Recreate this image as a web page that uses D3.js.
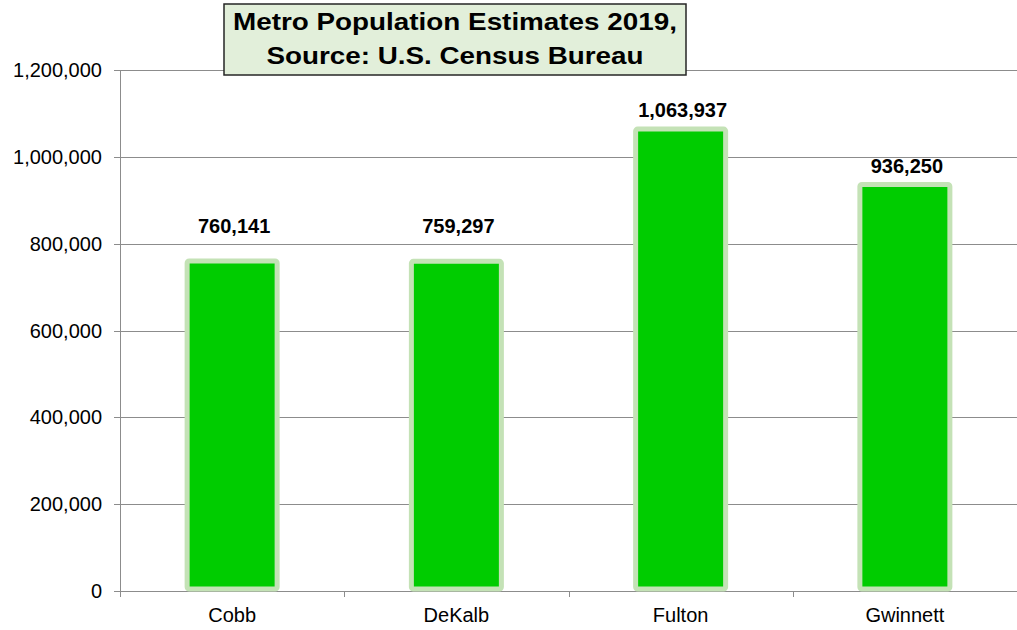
<!DOCTYPE html>
<html>
<head>
<meta charset="utf-8">
<script src="https://cdn.jsdelivr.net/npm/d3@7"></script>
<style>
  body { margin: 0; background: #fff; }
  svg { font-family: "Liberation Sans", Arial, sans-serif; }
</style>
</head>
<body>
<svg width="1017" height="630"></svg>
<script>
// chart data
var counties = ["Cobb", "DeKalb", "Fulton", "Gwinnett"];
var population = [760141, 759297, 1063937, 936250];
var yTicks = [0, 200000, 400000, 600000, 800000, 1000000, 1200000];
var titleLines = ["Metro Population Estimates 2019,", "Source: U.S. Census Bureau"];

var svg = d3.select("svg");
var plotLeft = 120, plotRight = 1017, plotTop = 70, plotBottom = 591;
var fmt = d3.format(",");
// labels were nudged by hand in the original
var labelDy = [-28, -28, -12, -12];

var x = d3.scaleBand()
  .domain(counties)
  .range([plotLeft, plotRight]);

var y = d3.scaleLinear()
  .domain([0, 1200000])
  .range([plotBottom, plotTop]);

// gridlines
svg.append("g")
  .selectAll("line")
  .data(yTicks)
  .join("line")
  .attr("x1", plotLeft - 6)
  .attr("x2", plotRight)
  .attr("y1", function(d) { return Math.round(y(d)) + 0.5; })
  .attr("y2", function(d) { return Math.round(y(d)) + 0.5; })
  .attr("stroke", "#8c8c8c")
  .attr("stroke-width", 1);

// y axis line
svg.append("line")
  .attr("x1", plotLeft + 0.5).attr("x2", plotLeft + 0.5)
  .attr("y1", plotTop).attr("y2", plotBottom + 6)
  .attr("stroke", "#8c8c8c");

// y tick labels
svg.append("g")
  .selectAll("text")
  .data(yTicks)
  .join("text")
  .attr("x", 102)
  .attr("y", function(d) { return y(d) + 7; })
  .attr("text-anchor", "end")
  .attr("font-size", 20)
  .attr("fill", "#000")
  .text(function(d) { return fmt(d); });

// x tick marks between categories
svg.append("g")
  .selectAll("line")
  .data(counties.slice(1))
  .join("line")
  .attr("x1", function(d) { return Math.round(x(d)) + 0.5; })
  .attr("x2", function(d) { return Math.round(x(d)) + 0.5; })
  .attr("y1", plotBottom)
  .attr("y2", plotBottom + 6)
  .attr("stroke", "#8c8c8c");

// bars
var barW = 90;
svg.append("g")
  .selectAll("rect")
  .data(counties)
  .join("rect")
  .attr("x", function(d) { return x(d) + x.bandwidth() / 2 - barW / 2; })
  .attr("y", function(d, i) { return y(population[i]); })
  .attr("width", barW)
  .attr("height", function(d, i) { return plotBottom - 2 - y(population[i]); })
  .attr("rx", 2)
  .attr("fill", "#00cc00")
  .attr("stroke", "#c4e2b6")
  .attr("stroke-width", 5);

// value labels
svg.append("g")
  .selectAll("text")
  .data(counties)
  .join("text")
  .attr("x", function(d) { return x(d) + x.bandwidth() / 2 + 2; })
  .attr("y", function(d, i) { return y(population[i]) + labelDy[i]; })
  .attr("text-anchor", "middle")
  .attr("font-size", 20)
  .attr("font-weight", "bold")
  .text(function(d, i) { return fmt(population[i]); });

// category labels
svg.append("g")
  .selectAll("text")
  .data(counties)
  .join("text")
  .attr("x", function(d) { return x(d) + x.bandwidth() / 2; })
  .attr("y", 622)
  .attr("text-anchor", "middle")
  .attr("font-size", 20)
  .text(function(d) { return d; });

// title box
svg.append("rect")
  .attr("x", 224).attr("y", 4)
  .attr("width", 462).attr("height", 71)
  .attr("fill", "#e2efda")
  .attr("stroke", "#262626")
  .attr("stroke-width", 1.5);

var titleWidths = [444, 377];
svg.append("g")
  .selectAll("text")
  .data(titleLines)
  .join("text")
  .attr("x", 455)
  .attr("y", function(d, i) { return 30 + i * 34; })
  .attr("text-anchor", "middle")
  .attr("font-size", 24)
  .attr("font-weight", "bold")
  .attr("textLength", function(d, i) { return titleWidths[i]; })
  .attr("lengthAdjust", "spacingAndGlyphs")
  .text(function(d) { return d; });
</script>
</body>
</html>
